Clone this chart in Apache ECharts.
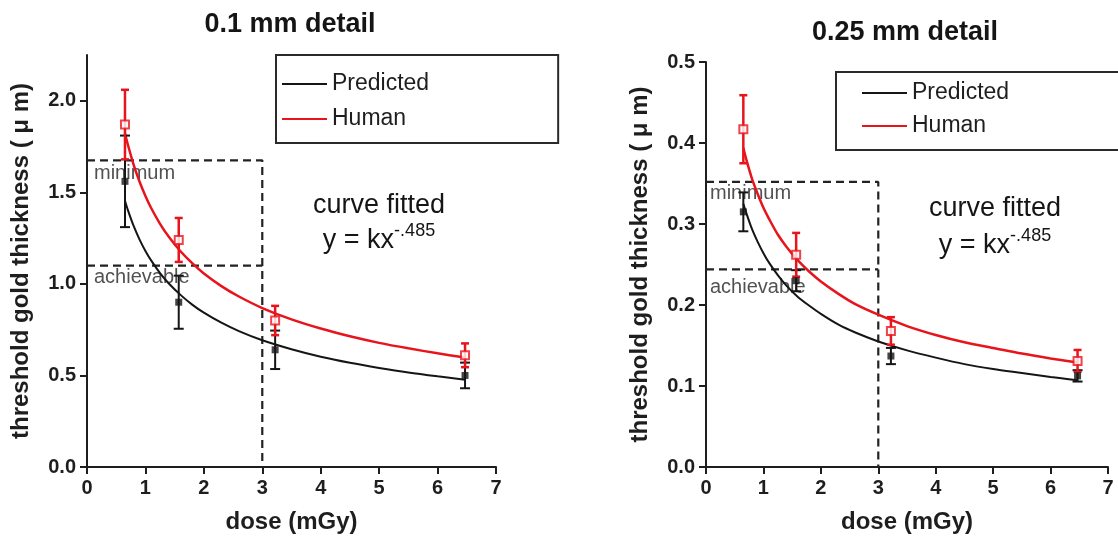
<!DOCTYPE html>
<html>
<head>
<meta charset="utf-8">
<script src="https://cdn.jsdelivr.net/npm/echarts@6/dist/echarts.min.js"></script>
<style>
html,body{margin:0;padding:0;background:#fff;}
#chart{width:1118px;height:539px;}
</style>
</head>
<body>
<div id="chart"></div>
<script>
// ---------- data ----------
const doses = [0.65, 1.57, 3.22, 6.47];

// 0.1 mm detail
const predMean01 = [1.56, 0.90, 0.64, 0.50];
const predErr01 = [0.25, 0.145, 0.105, 0.07];
const humanMean01 = [1.87, 1.24, 0.80, 0.61];
const humanErr01 = [0.19, 0.12, 0.08, 0.065];

// 0.25 mm detail
const predMean025 = [0.315, 0.230, 0.137, 0.1125];
const predErr025 = [0.024, 0.013, 0.010, 0.007];
const humanMean025 = [0.417, 0.262, 0.168, 0.131];
const humanErr025 = [0.042, 0.027, 0.017, 0.0135];

// fitted curves y = k x^-.485
const curveDose = [0.65, 0.7, 0.8, 0.9, 1.0, 1.1, 1.25, 1.4, 1.6, 1.8, 2.0, 2.3, 2.6, 3.0, 3.5, 4, 4.5, 5, 5.5, 6, 6.47];
const predFit01 = [1.454, 1.403, 1.315, 1.242, 1.180, 1.127, 1.059, 1.002, 0.940, 0.887, 0.843, 0.788, 0.742, 0.692, 0.643, 0.602, 0.569, 0.541, 0.516, 0.495, 0.477];
const humanFit01 = [1.823, 1.760, 1.649, 1.558, 1.480, 1.413, 1.328, 1.257, 1.178, 1.113, 1.057, 0.988, 0.931, 0.868, 0.806, 0.756, 0.714, 0.678, 0.648, 0.621, 0.598];
const predFit025 = [0.325, 0.314, 0.294, 0.278, 0.264, 0.252, 0.237, 0.224, 0.210, 0.199, 0.189, 0.176, 0.166, 0.155, 0.144, 0.135, 0.127, 0.121, 0.116, 0.111, 0.107];
const humanFit025 = [0.394, 0.380, 0.356, 0.337, 0.320, 0.306, 0.287, 0.272, 0.255, 0.241, 0.229, 0.214, 0.201, 0.188, 0.174, 0.163, 0.154, 0.147, 0.140, 0.134, 0.129];

// dashed reference boxes
const boxDose = 3;
const minimum01 = 1.675, achievable01 = 1.10;
const minimum025 = 0.352, achievable025 = 0.244;
const labelY01 = [1.605, 1.037];
const labelY025 = [0.338, 0.222];

// axes ticks
const xTicks = [0, 1, 2, 3, 4, 5, 6, 7];
const yTicks01 = [0, 0.5, 1.0, 1.5, 2.0];
const yTicks025 = [0, 0.1, 0.2, 0.3, 0.4, 0.5];

const titles = ['0.1 mm detail', '0.25 mm detail'];
const legendNames = ['Predicted', 'Human'];

// ---------- styling ----------
const FONT = 'Liberation Sans, Arial, sans-serif';
const BLACK = '#151515';
const RED = '#e8141c';
const AX = '#1e1e1e';

const chart = echarts.init(document.getElementById('chart'), null, {renderer: 'canvas'});

function zip(xs, ys) { return xs.map((x, i) => [x, ys[i]]); }
function errData(xs, m, e) { return xs.map((x, i) => [x, m[i] - e[i], m[i] + e[i]]); }

function errSeries(idx, data, color, cap, width) {
  return {
    type: 'custom', xAxisIndex: idx, yAxisIndex: idx, z: 3, silent: true,
    data: data,
    renderItem: function (params, api) {
      const x = api.value(0);
      const lo = api.coord([x, api.value(1)]);
      const hi = api.coord([x, api.value(2)]);
      const st = {stroke: color, lineWidth: width};
      return {type: 'group', children: [
        {type: 'line', shape: {x1: lo[0], y1: lo[1], x2: hi[0], y2: hi[1]}, style: st},
        {type: 'line', shape: {x1: lo[0] - cap, y1: lo[1], x2: lo[0] + cap, y2: lo[1]}, style: st},
        {type: 'line', shape: {x1: hi[0] - cap, y1: hi[1], x2: hi[0] + cap, y2: hi[1]}, style: st}
      ]};
    }
  };
}

function dashSeries(idx, data) {
  return {
    type: 'line', xAxisIndex: idx, yAxisIndex: idx, data: data, symbol: 'none', silent: true, z: 1,
    lineStyle: {color: '#222', width: 2.2, type: [8, 5]}, animation: false
  };
}

function labelSeries(idx, y, text, dist) {
  return {
    type: 'scatter', xAxisIndex: idx, yAxisIndex: idx, symbolSize: 0, silent: true, z: 0,
    data: [[0, y]],
    label: {show: true, position: 'right', distance: dist, formatter: text,
      fontFamily: FONT, fontSize: 20, color: '#262626'}
  };
}

function panelSeries(idx, pm, pe, hm, he, pf, hf, minV, achV, labY, labDist) {
  return [
    dashSeries(idx, [[0, minV], [boxDose, minV], [boxDose, 0]]),
    dashSeries(idx, [[0, achV], [boxDose, achV]]),
    labelSeries(idx, labY[0], 'minimum', labDist),
    labelSeries(idx, labY[1], 'achievable', labDist),
    {name: 'Predicted', type: 'line', xAxisIndex: idx, yAxisIndex: idx, data: zip(curveDose, pf),
      smooth: 0.3, showSymbol: false, symbol: 'none', lineStyle: {color: BLACK, width: 2}, itemStyle: {color: BLACK}, z: 2},
    {name: 'Human', type: 'line', xAxisIndex: idx, yAxisIndex: idx, data: zip(curveDose, hf),
      smooth: 0.3, showSymbol: false, symbol: 'none', lineStyle: {color: RED, width: 2.5}, itemStyle: {color: RED}, z: 2},
    errSeries(idx, errData(doses, pm, pe), BLACK, 5, 2),
    errSeries(idx, errData(doses, hm, he), RED, 4, 2.5),
    {name: 'Predicted data', type: 'scatter', xAxisIndex: idx, yAxisIndex: idx, data: zip(doses, pm),
      symbol: 'rect', symbolSize: 7, itemStyle: {color: BLACK}, z: 4},
    {name: 'Human data', type: 'scatter', xAxisIndex: idx, yAxisIndex: idx, data: zip(doses, hm),
      symbol: 'rect', symbolSize: 8, itemStyle: {color: '#fff', borderColor: RED, borderWidth: 2}, z: 5}
  ];
}

function xAxis(idx) {
  return {
    type: 'value', gridIndex: idx, min: 0, max: 7, interval: 1,
    name: 'dose (mGy)', nameLocation: 'middle', nameGap: 43,
    nameTextStyle: {fontFamily: FONT, fontSize: 24, fontWeight: 'bold', color: AX},
    axisLine: {show: true, onZero: false, lineStyle: {color: AX, width: 2}},
    axisTick: {show: true, length: 7, lineStyle: {color: AX, width: 2}},
    axisLabel: {fontFamily: FONT, fontSize: 20, fontWeight: 'bold', color: AX, margin: 11},
    splitLine: {show: false}
  };
}

function yAxis(idx, max, ticks) {
  return {
    type: 'value', gridIndex: idx, min: 0, max: max,
    name: 'threshold gold thickness ( \u03bc m)', nameLocation: 'middle', nameGap: 54,
    nameTextStyle: {fontFamily: FONT, fontSize: 24, fontWeight: 'bold', color: AX},
    axisLine: {show: true, onZero: false, lineStyle: {color: AX, width: 2}},
    axisTick: {show: true, length: 7, lineStyle: {color: AX, width: 2}, customValues: ticks},
    axisLabel: {fontFamily: FONT, fontSize: 20, fontWeight: 'bold', color: AX, margin: 11,
      customValues: ticks, formatter: v => v.toFixed(1)},
    splitLine: {show: false}
  };
}

function legend(left, top, pad, gap) {
  return {
    data: legendNames, orient: 'vertical', left: left, top: top,
    padding: pad, itemGap: gap, itemWidth: 45, itemHeight: 2, icon: 'rect',
    borderColor: '#2a2a2a', borderWidth: 2, selectedMode: false,
    textStyle: {fontFamily: FONT, fontSize: 23, color: '#1e1e1e', lineHeight: 26}
  };
}

function eqText(cx, cy1, cy2) {
  return [
    {type: 'text', x: cx, y: cy1, style: {text: 'curve fitted', fontFamily: FONT, fontSize: 27, fill: '#151515',
      align: 'center', verticalAlign: 'middle'}},
    {type: 'text', x: cx, y: cy2, style: {text: '{a|y = kx}{b|-.485}', align: 'center', verticalAlign: 'middle',
      rich: {a: {fontFamily: FONT, fontSize: 27, fill: '#151515', verticalAlign: 'bottom', lineHeight: 32},
             b: {fontFamily: FONT, fontSize: 18, fill: '#151515', verticalAlign: 'top', lineHeight: 32}}}}
  ];
}

const option = {
  backgroundColor: '#fff',
  animation: false,
  grid: [
    {left: 87, top: 55, width: 409, height: 412},
    {left: 706, top: 62, width: 402, height: 405}
  ],
  xAxis: [xAxis(0), xAxis(1)],
  yAxis: [yAxis(0, 2.25, yTicks01), yAxis(1, 0.5, yTicks025)],
  legend: [
    legend(276, 55, [16, 129, 11, 6], 9),
    legend(836, 72, [8, 111, 11, 26], 7)
  ],
  graphic: [
    {type: 'text', x: 290, y: 25, style: {text: titles[0], fontFamily: FONT, fontSize: 27, fontWeight: 'bold',
      fill: '#151515', align: 'center', verticalAlign: 'middle'}},
    {type: 'text', x: 905, y: 33, style: {text: titles[1], fontFamily: FONT, fontSize: 27, fontWeight: 'bold',
      fill: '#151515', align: 'center', verticalAlign: 'middle'}}
  ].concat(eqText(379, 206, 238), eqText(995, 209, 243)),
  series: [].concat(
    panelSeries(0, predMean01, predErr01, humanMean01, humanErr01, predFit01, humanFit01, minimum01, achievable01, labelY01, 7),
    panelSeries(1, predMean025, predErr025, humanMean025, humanErr025, predFit025, humanFit025, minimum025, achievable025, labelY025, 4)
  )
};
chart.setOption(option);
</script>
</body>
</html>
